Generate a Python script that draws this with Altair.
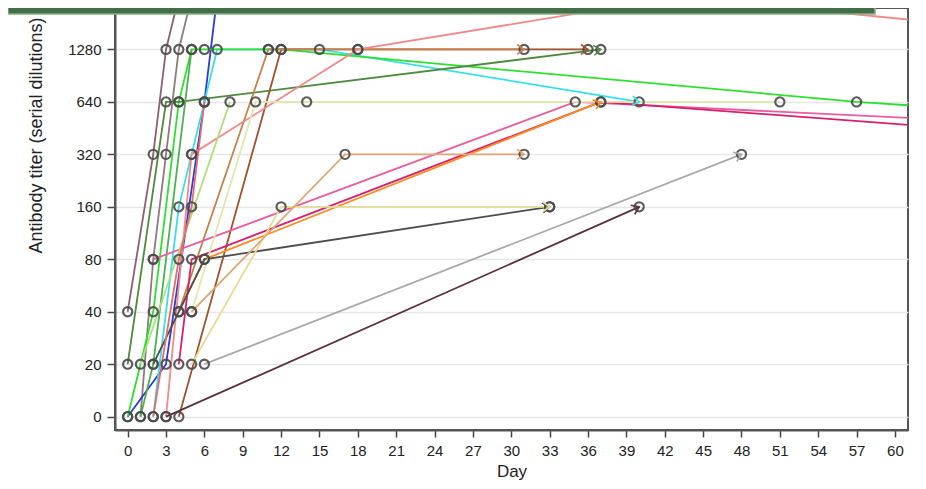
import math
import json
import altair as alt
import pandas as pd

# ---- data ----
titer_levels = [0, 20, 40, 80, 160, 320, 640, 1280, 2560]
y_tick_labels = ["0", "20", "40", "80", "160", "320", "640", "1280"]
x_ticks = list(range(0, 61, 3))

s01_days = [0, 2, 3, 4];            s01_titer = [40, 320, 1280, 2560]
s02_days = [1, 2, 3, 4, 5];         s02_titer = [0, 80, 320, 1280, 2560]
s03_days = [0, 3, 6, 7];            s03_titer = [0, 20, 640, 2560]
s04_days = [2, 4, 5, 6, 7, 11, 15, 40]; s04_titer = [0, 160, 320, 640, 1280, 1280, 1280, 640]
s05_days = [0, 2, 4, 5, 6, 12, 57, 120]; s05_titer = [0, 40, 640, 1280, 1280, 1280, 640, 320]
s06_days = [0, 3, 4, 37];           s06_titer = [20, 640, 640, 1280]
s07_days = [1, 2, 5];               s07_titer = [0, 20, 1280]
s08_days = [4, 12, 18, 36];         s08_titer = [0, 1280, 1280, 1280]
s09_days = [4, 11, 31];             s09_titer = [40, 1280, 1280]
s10_days = [3, 5, 18, 43, 85];      s10_titer = [0, 320, 1280, 2560, 1280]
s11_days = [2, 35, 120];            s11_titer = [80, 640, 320]
s12_days = [4, 5, 37, 92];          s12_titer = [20, 80, 640, 320]
s13_days = [4, 6, 37];              s13_titer = [40, 80, 640]
s14_days = [2, 6, 33];              s14_titer = [20, 80, 160]
s15_days = [5, 12, 33];             s15_titer = [20, 160, 160]
s16_days = [5, 10, 14, 51];         s16_titer = [40, 640, 640, 640]
s17_days = [1, 8];                  s17_titer = [20, 640]
s18_days = [5, 17, 31];             s18_titer = [40, 320, 320]
s19_days = [6, 48];                 s19_titer = [20, 320]
s20_days = [3, 40];                 s20_titer = [0, 160]
s21_days = [2, 4, 5, 6];            s21_titer = [0, 80, 160, 640]

subject_ids = ["S%02d" % i for i in range(1, 22)]
subject_days = [s01_days, s02_days, s03_days, s04_days, s05_days, s06_days, s07_days,
                s08_days, s09_days, s10_days, s11_days, s12_days, s13_days, s14_days,
                s15_days, s16_days, s17_days, s18_days, s19_days, s20_days, s21_days]
subject_titers = [s01_titer, s02_titer, s03_titer, s04_titer, s05_titer, s06_titer, s07_titer,
                  s08_titer, s09_titer, s10_titer, s11_titer, s12_titer, s13_titer, s14_titer,
                  s15_titer, s16_titer, s17_titer, s18_titer, s19_titer, s20_titer, s21_titer]
ends_with_arrow = ["S04", "S06", "S08", "S09", "S13", "S14", "S15", "S18", "S19", "S20"]

# ---- styles ----
colors = ["#8b6070", "#8e7b7b", "#2a3bd6", "#35e0e6", "#2ee02e", "#4e8a3e", "#4cb050",
          "#a0522d", "#c8804a", "#f08a8a", "#ea5ca0", "#d6206e", "#ff8a1c", "#4d4d4d",
          "#e4dc98", "#dfe8b0", "#b0e07a", "#e0a878", "#a9a9a9", "#5b2f40", "#e86a6a"]

W, H = 793, 422
XDOM = [-0.99, 61.02]
YDOM = [-0.254, 7.79]
PX_DAY = W / (XDOM[1] - XDOM[0])
PX_LEVEL = H / (YDOM[1] - YDOM[0])

rows, arrows = [], []
for sid, days, titers in zip(subject_ids, subject_days, subject_titers):
    levels = [titer_levels.index(t) for t in titers]
    for k, (d, lv) in enumerate(zip(days, levels)):
        rows.append({"subject": sid, "day": d, "level": lv, "order": k})
    if sid in ends_with_arrow:
        dx = (days[-1] - days[-2]) * PX_DAY
        dy = -(levels[-1] - levels[-2]) * PX_LEVEL
        ang = math.degrees(math.atan2(dy, dx)) % 360
        arrows.append({"subject": sid, "day": days[-1], "level": levels[-1], "angle": ang})

df = pd.DataFrame(rows)
adf = pd.DataFrame(arrows)

FONT = "Liberation Sans"
label_expr = json.dumps(y_tick_labels) + "[datum.value]"

x_enc = alt.X("day:Q", scale=alt.Scale(domain=XDOM, nice=False, zero=False),
              axis=alt.Axis(values=x_ticks, title="Day", grid=False, tickSize=7,
                            labelPadding=6, titlePadding=5, labelFlush=False))
y_enc = alt.Y("level:Q", scale=alt.Scale(domain=YDOM, nice=False, zero=False),
              axis=alt.Axis(values=list(range(len(y_tick_labels))), labelExpr=label_expr,
                            title="Antibody titer (serial dilutions)", grid=True,
                            tickSize=8, labelPadding=6, titleAngle=270, titleAlign="left",
                            titleBaseline="middle", titleX=-79, titleY=245,
                            titleFontSize=18))
color_enc = alt.Color("subject:N", scale=alt.Scale(domain=subject_ids, range=colors), legend=None)

lines = alt.Chart(df).mark_line(clip=True, strokeWidth=1.8).encode(
    x=x_enc, y=y_enc, color=color_enc, detail="subject:N", order="order:Q")

circles = alt.Chart(df).mark_point(clip=True, shape="circle", filled=False, size=85,
                                   stroke="#4a4a4a", strokeWidth=2.1, opacity=0.9).encode(
    x=x_enc, y=y_enc)

arrowheads = alt.Chart(adf).mark_point(clip=True, shape="M-1,-0.7L0,0L-1,0.7", filled=False,
                                       size=200, strokeWidth=1.6, opacity=1).encode(
    x=x_enc, y=y_enc, angle=alt.Angle("angle:Q", scale=None),
    stroke=alt.Stroke("subject:N", scale=alt.Scale(domain=subject_ids, range=colors), legend=None))

bar = alt.Chart(pd.DataFrame({"k": [0]})).mark_rect(
    fill="#426e48", stroke="#86b086", strokeWidth=1.5, clip=False).encode(
    x=alt.value(-107), x2=alt.value(760), y=alt.value(-2), y2=alt.value(6))

chart = alt.layer(lines, circles, arrowheads, bar).properties(
    width=W, height=H,
    padding={"left": 107, "top": 0, "right": 10, "bottom": 54},
    autosize=alt.AutoSizeParams(type="none"),
).configure_view(stroke="#555555", strokeWidth=2).configure_axis(
    domainColor="#555555", domainWidth=2, tickColor="#444444", tickWidth=1.5,
    gridColor="#e6e6e6", gridWidth=1.5,
    labelFont=FONT, labelFontSize=15, labelColor="#222222",
    titleFont=FONT, titleFontSize=17, titleFontWeight="normal", titleColor="#222222",
)

chart.save("out.html", embed_options={"renderer": "svg", "actions": False})
